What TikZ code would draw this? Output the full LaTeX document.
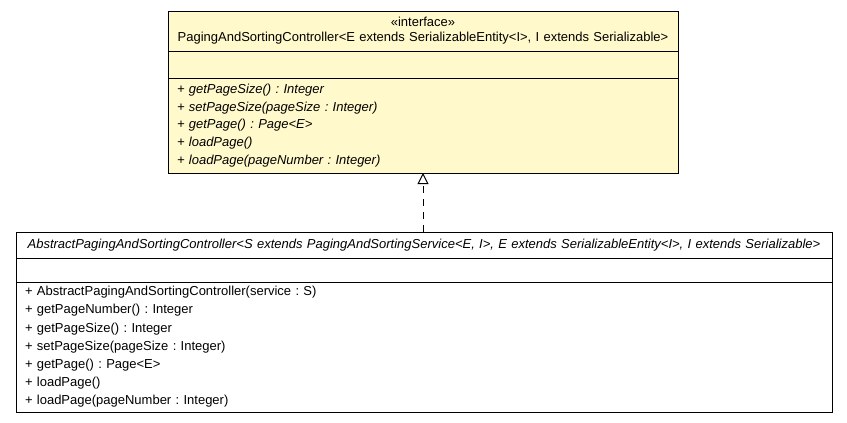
\documentclass[tikz,border=0pt]{standalone}
\usepackage{fontspec}
\setmainfont{Liberation Sans}
\usetikzlibrary{arrows.meta,positioning}
\definecolor{IfaceFill}{HTML}{FFF9CC}
\definecolor{Ink}{HTML}{000000}
\tikzset{
  umlpart/.style={draw=Ink,line width=1pt,inner xsep=9pt,inner ysep=0pt,outer sep=0pt,font=\fontsize{13}{17.8}\selectfont\frenchspacing},
  ifpart/.style={umlpart,fill=IfaceFill,text width=492pt},
  abspart/.style={umlpart,fill=white,text width=798pt},
  realize/.style={draw=Ink,line width=1pt,dash pattern=on 7pt off 6pt,-{Triangle[open,length=11pt,width=11pt]}}
}
\begin{document}
\begin{tikzpicture}[x=1pt,y=-1pt,node distance=0pt]
  \useasboundingbox (0,0) rectangle (847,423);
  % interface
  \node[ifpart,align=center,minimum height=40pt,anchor=north,font=\fontsize{13}{17}\selectfont\frenchspacing] (ifname) at (423,11) {\raisebox{-2pt}{«interface»}\\[-2pt]\raisebox{-2pt}{PagingAndSortingController<E extends SerializableEntity<I>, I extends Serializable>}};
  \node[ifpart,minimum height=27pt,below=of ifname] (ifattr) {};
  \node[ifpart,align=left,minimum height=95pt,below=of ifattr] (ifops) {\itshape
    + getPageSize() : Integer\\
    + setPageSize(pageSize : Integer)\\
    + getPage() : Page<E>\\
    + loadPage()\\
    + loadPage(pageNumber : Integer)};

  % abstract class
  \node[abspart,align=center,minimum height=26pt,anchor=north] (absname) at (424,232) {\itshape AbstractPagingAndSortingController<S extends PagingAndSortingService<E, I>, E extends SerializableEntity<I>, I extends Serializable>};
  \node[abspart,minimum height=24pt,below=of absname] (absattr) {};
  \node[abspart,align=left,minimum height=130pt,below=of absattr,font=\fontsize{13}{18.2}\selectfont\frenchspacing] (absops) {%
    + AbstractPagingAndSortingController(service : S)\\
    + getPageNumber() : Integer\\
    + getPageSize() : Integer\\
    + setPageSize(pageSize : Integer)\\
    + getPage() : Page<E>\\
    + loadPage()\\
    + loadPage(pageNumber : Integer)};

  \draw[realize] (absname.north -| ifops.south) -- (ifops.south);
\end{tikzpicture}
\end{document}
